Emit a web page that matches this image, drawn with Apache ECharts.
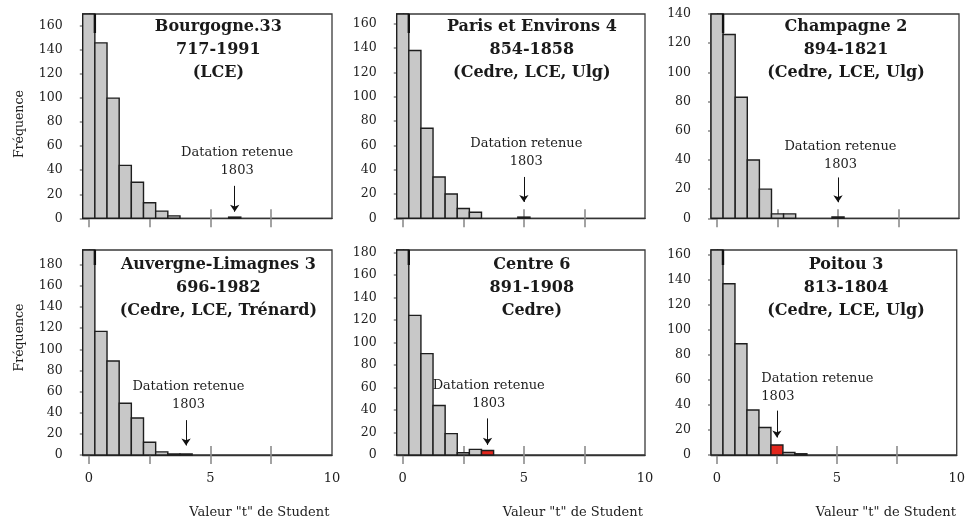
<!DOCTYPE html>
<html><head><meta charset="utf-8">
<script src="https://cdn.jsdelivr.net/npm/echarts@6/dist/echarts.min.js"></script>
<style>html,body{margin:0;padding:0;background:#fff}#c{width:968px;height:523px}</style>
</head><body><div id="c"></div>
<script>
// ---------------- data ----------------
const bins = [0,0.5,1,1.5,2,2.5,3,3.5,4,4.5,5,5.5,6,6.5,7,7.5,8,8.5,9,9.5];
const titles = [
  'Bourgogne.33\n717-1991\n(LCE)',
  'Paris et Environs 4\n854-1858\n(Cedre, LCE, Ulg)',
  'Champagne 2\n894-1821\n(Cedre, LCE, Ulg)',
  'Auvergne-Limagnes 3\n696-1982\n(Cedre, LCE, Trénard)',
  'Centre 6\n891-1908\nCedre)',
  'Poitou 3\n813-1804\n(Cedre, LCE, Ulg)'
];
const countsBourgogne = [240,146,100,44,30,13,6,2,0,0,0,0,1];
const countsParis     = [230,138,74,34,20,8,5,0,0,0,1];
const countsChampagne = [200,126,83,40,20,3,3,0,0,0,1];
const countsAuvergne  = [260,117,89,49,35,12,3,1,1];
const countsCentre    = [250,124,90,44,19,2,5,4];
const countsPoitou    = [230,137,89,36,22,8,2,1];
const panelCounts = [countsBourgogne,countsParis,countsChampagne,countsAuvergne,countsCentre,countsPoitou];
const yMax = [170,168,140,194,182,164];
const yTicks160 = [0,20,40,60,80,100,120,140,160];
const yTicks140 = [0,20,40,60,80,100,120,140];
const yTicks180 = [0,20,40,60,80,100,120,140,160,180];
const panelYTicks = [yTicks160,yTicks160,yTicks140,yTicks180,yTicks180,yTicks160];
const xTicks = [0,2.5,5,7.5];
const xLabels = [0,5,10];
const datationT = [6,5,5,4,3.5,2.5];
const redBin = [null,null,null,null,3.5,2.5];
const datationText = 'Datation retenue';
const datationYear = '1803';
const yAxisName = 'Fréquence';
const xAxisName = 'Valeur "t" de Student';

// ---------------- layout ----------------
const colL = [82.7, 396.7, 711], colR = [332, 645, 959];
const rowT = [14, 250], rowB = [218.3, 455];
const arrowFromTo = [[27,5.5],[34,13.5],[28,11],[33,9],[32.5,9],[35.5,14]];
const labelAnchor = [[6.1,47],[5.1,54],[5.1,43],[4.1,56],[3.55,53.6],[1.85,54.3]];
const labelAlign = ['center','center','center','center','center','left'];
const breakLen = [19,19,19,15,15,15];

const FONT = 'DejaVu Serif';
const GRAY = '#c8c8c8', RED = '#e2261c', EDGE = '#1e1e1e', TICK = '#8c8c8c', TXT = '#222';
const half = (bins[1]-bins[0])/2;

function makeRender(i){
  return function(params, api){
    const x = api.value(0), v = api.value(1), red = api.value(2);
    if (!(v > 0)) return null;
    const cs = params.coordSys;
    const p0 = api.coord([x - half, 0]);
    const p1 = api.coord([x + half, v]);
    const clipped = p1[1] < cs.y;
    const top = Math.max(p1[1], cs.y);
    const children = [{
      type:'rect',
      shape:{x:p0[0], y:top, width:p1[0]-p0[0], height:p0[1]-top},
      style:{fill: red ? RED : GRAY, stroke: EDGE, lineWidth:1.4}
    }];
    if (clipped) children.push({
      type:'line',
      shape:{x1:p1[0], y1:cs.y, x2:p1[0], y2:cs.y + breakLen[i]},
      style:{stroke:'#111', lineWidth:2.4}
    });
    return {type:'group', children};
  };
}

const grid=[], xAxis=[], yAxis=[], series=[], title=[];
for (let i=0;i<6;i++){
  const col=i%3, row=Math.floor(i/3);
  const L=colL[col], R=colR[col], T=rowT[row], B=rowB[row];
  grid.push({left:L, top:T, width:R-L, height:B-T, show:true, borderColor:'#3a3a3a', borderWidth:1.3, backgroundColor:'transparent', containLabel:false});
  title.push({text:titles[i], left:(L+R)/2+11, top:T+ (row===0?1:3.5), textAlign:'center', padding:0,
    textStyle:{fontFamily:FONT, fontWeight:'bold', fontSize:16, lineHeight:23, color:'#1a1a1a'}});
  xAxis.push({type:'value', gridIndex:i, min:-half, max:10, position:'bottom',
    axisLine:{show:true, lineStyle:{color:'#333', width:1.3}},
    axisTick:{show:true, inside:false, length:9, customValues:xTicks, lineStyle:{color:TICK, width:1.6}},
    axisLabel:{show:row===1, customValues:xLabels, margin:17, fontFamily:FONT, fontSize:13, color:TXT},
    splitLine:{show:false},
    name: row===1 ? xAxisName : '', nameLocation:'middle', nameGap:51,
    nameTextStyle:{fontFamily:FONT, fontSize:13, color:TXT, padding:[0,0,0,104]}
  });
  xAxis.push({type:'value', gridIndex:i, min:-half, max:10, position:'bottom',
    axisLine:{show:false},
    axisTick:{show:true, inside:true, length:9, customValues:xTicks, lineStyle:{color:TICK, width:1.6}},
    axisLabel:{show:false}, splitLine:{show:false}
  });
  yAxis.push({type:'value', gridIndex:i, min:0, max:yMax[i],
    axisLine:{show:true, lineStyle:{color:'#333', width:1.3}},
    axisTick:{show:true, inside:false, length:9, customValues:panelYTicks[i], lineStyle:{color:TICK, width:1.6}},
    axisLabel:{show:true, customValues:panelYTicks[i], margin:20, fontFamily:FONT, fontSize:12.5, color:TXT},
    splitLine:{show:false},
    name: col===0 ? yAxisName : '', nameLocation:'middle', nameGap:56,
    nameTextStyle:{fontFamily:FONT, fontSize:12.5, color:TXT, padding: row===0 ? [0,16,0,0] : [0,0,0,30]}
  });
  const counts = panelCounts[i];
  const data = counts.map((c,k)=>[bins[k], c, redBin[i]!==null && bins[k]===redBin[i] ? 1 : 0]);
  series.push({type:'custom', xAxisIndex:2*i, yAxisIndex:i, renderItem:makeRender(i), data, z:3, silent:true, clip:false});
  const [fromV, toV] = arrowFromTo[i];
  series.push({type:'scatter', xAxisIndex:2*i, yAxisIndex:i, silent:true, z:4,
    symbol:'circle', symbolSize:0, itemStyle:{color:'#111'},
    data:[labelAnchor[i]],
    label:{show:true, position:'inside', formatter: datationText + '\n' + datationYear,
      fontFamily:FONT, fontSize:13, lineHeight:18, color:'#1e1e1e', opacity:1, textBorderWidth:0,
      align:labelAlign[i], verticalAlign:'middle'},
    markLine:{silent:true, animation:false, symbol:['none','arrow'], symbolSize:7, precision:3,
      label:{show:false}, lineStyle:{color:'#111', width:1, type:'solid', opacity:1},
      itemStyle:{color:'#111'},
      emphasis:{disabled:true},
      data:[[{coord:[datationT[i], fromV]},{coord:[datationT[i], toV]}]]}
  });
}

const chart = echarts.init(document.getElementById('c'), null, {renderer:'canvas'});
chart.setOption({animation:false, backgroundColor:'#fff', title, grid, xAxis, yAxis, series});
</script>
</body></html>
